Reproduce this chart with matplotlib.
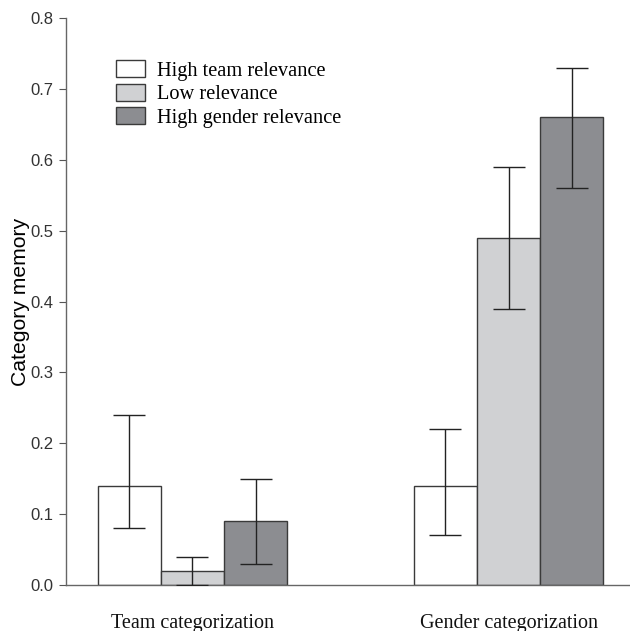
import matplotlib
matplotlib.use("Agg")
import matplotlib.pyplot as plt
import numpy as np

groups = ["Team categorization", "Gender categorization"]
conditions = ["High team relevance", "Low relevance", "High gender relevance"]
means = {
    "High team relevance": [0.14, 0.14],
    "Low relevance": [0.02, 0.49],
    "High gender relevance": [0.09, 0.66],
}
err_low = {
    "High team relevance": [0.08, 0.07],
    "Low relevance": [0.00, 0.39],
    "High gender relevance": [0.03, 0.56],
}
err_high = {
    "High team relevance": [0.24, 0.22],
    "Low relevance": [0.04, 0.59],
    "High gender relevance": [0.15, 0.73],
}
colors = ["#ffffff", "#d0d1d3", "#8c8d91"]
yticks = [0.0, 0.1, 0.2, 0.3, 0.4, 0.5, 0.6, 0.7, 0.8]

fig = plt.figure(figsize=(6.30, 6.31), dpi=100)
ax = fig.add_axes([66/630, 1-585/631, 564/630, (585-18)/631])

x = np.arange(len(groups))
w = 0.2
for i, cond in enumerate(conditions):
    pos = x + (i - 1) * w
    m = np.array(means[cond])
    lo = m - np.array(err_low[cond])
    hi = np.array(err_high[cond]) - m
    ax.bar(pos, m, width=w, color=colors[i], edgecolor="#3a3a3a", linewidth=1.0,
           label=cond, zorder=2)
    ax.errorbar(pos, m, yerr=[lo, hi], fmt="none", ecolor="#222222",
                elinewidth=1.0, capsize=11.5, capthick=1.0, zorder=3)

ax.set_xlim(-0.40, 1.384)
ax.set_ylim(0, 0.8)
ax.set_yticks(yticks)
ax.set_yticklabels([f"{v:.1f}" for v in yticks], fontsize=12,
                   family="Liberation Sans", color="#333333")
ax.set_xticks(x)
ax.set_xticklabels(groups, fontsize=14.5, family="Liberation Serif", color="#111111")
ax.tick_params(axis="x", direction="in", length=3, pad=21, color="#555555")
ax.tick_params(axis="y", direction="out", length=5, color="#555555", pad=4)
for s in ["top", "right"]:
    ax.spines[s].set_visible(False)
for s in ["left", "bottom"]:
    ax.spines[s].set_color("#666666")
    ax.spines[s].set_linewidth(1.0)

ax.set_ylabel("Category memory", fontsize=15.2, family="Liberation Sans")
ax.yaxis.set_label_coords(-0.064, 0.5)

leg = ax.legend(loc="upper left", bbox_to_anchor=(42/564, 1 - 34/567), frameon=False,
                prop={"family": "Liberation Serif", "size": 14.7},
                handlelength=1.42, handleheight=0.88, labelspacing=0.16,
                handletextpad=0.58, borderaxespad=0)

fig.savefig("out.png", dpi=100)
